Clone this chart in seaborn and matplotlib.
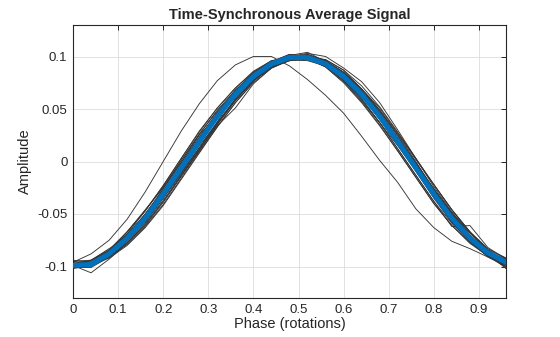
import matplotlib
matplotlib.use("Agg")
import matplotlib.pyplot as plt
import numpy as np
import pandas as pd
import seaborn as sns

# Phase grid of one shaft rotation (25 samples per rotation)
phase = [0.00, 0.04, 0.08, 0.12, 0.16, 0.20, 0.24, 0.28, 0.32, 0.36, 0.40, 0.44,
         0.48, 0.52, 0.56, 0.60, 0.64, 0.68, 0.72, 0.76, 0.80, 0.84, 0.88, 0.92, 0.96]

# Individual rotation segments, amplitude in units of 1e-3
rot01 = [-96, -95, -85, -67, -47, -24, 1, 26, 49, 68, 84, 95, 100, 101, 93, 79, 60, 37, 12, -13, -38, -59, -76, -88, -95]
rot02 = [-101, -100, -91, -78, -61, -39, -14, 11, 35, 58, 77, 91, 98, 100, 97, 87, 72, 52, 28, 3, -22, -46, -67, -84, -97]
rot03 = [-95, -99, -88, -71, -50, -28, -3, 22, 43, 62, 78, 91, 99, 98, 92, 81, 67, 48, 24, -1, -28, -51, -73, -86, -101]
rot04 = [-100, -94, -83, -73, -57, -35, -12, 13, 38, 64, 83, 94, 101, 104, 95, 78, 59, 37, 15, -9, -34, -58, -74, -90, -99]
rot05 = [-94, -96, -86, -67, -46, -25, -1, 25, 44, 67, 85, 96, 97, 96, 91, 79, 64, 45, 22, -3, -26, -49, -68, -84, -92]
rot06 = [-99, -106, -93, -78, -60, -38, -14, 10, 36, 59, 78, 90, 99, 102, 96, 85, 69, 49, 25, 0, -27, -51, -71, -88, -102]
rot07 = [-101, -97, -85, -70, -50, -26, -1, 23, 46, 66, 82, 94, 100, 98, 91, 77, 58, 37, 12, -13, -38, -62, -61, -82, -93]
rot08 = [-100, -99, -91, -77, -59, -37, -13, 11, 34, 51, 74, 89, 97, 100, 95, 83, 65, 44, 19, -6, -31, -54, -73, -88, -97]
rot09 = [-99, -98, -89, -74, -55, -32, -7, 18, 42, 63, 80, 93, 100, 103, 100, 89, 76, 56, 30, 3, -24, -48, -68, -85, -95]
rot10 = [-97, -96, -88, -75, -58, -35, -9, 15, 37, 59, 77, 89, 96, 97, 91, 79, 62, 43, 22, -1, -26, -49, -70, -86, -93]
rot11 = [-102, -99, -86, -69, -47, -23, 3, 29, 51, 70, 86, 96, 100, 98, 90, 75, 56, 34, 10, -15, -40, -61, -77, -90, -99]
rot12 = [-99, -98, -91, -79, -62, -41, -16, 9, 33, 56, 76, 91, 99, 101, 95, 84, 69, 51, 27, 3, -22, -46, -67, -83, -92]
rot13 = [-100, -96, -85, -69, -51, -30, -4, 22, 47, 68, 83, 93, 98, 99, 94, 83, 63, 40, 16, -7, -32, -57, -76, -91, -100]
rot14 = [-97, -98, -89, -73, -52, -28, -3, 21, 43, 62, 81, 95, 102, 100, 91, 77, 61, 43, 22, -3, -28, -51, -73, -88, -97]
rot15 = [-100, -97, -88, -75, -56, -31, -3, 23, 46, 64, 79, 90, 96, 99, 97, 87, 69, 47, 22, -5, -33, -57, -77, -89, -95]
rot16 = [-95, -94, -85, -71, -55, -34, -11, 12, 37, 60, 81, 95, 102, 100, 93, 80, 62, 40, 16, -8, -31, -53, -71, -85, -94]
rot17 = [-101, -101, -91, -76, -56, -30, -5, 20, 44, 66, 83, 93, 97, 97, 93, 83, 67, 46, 20, -9, -35, -58, -75, -88, -95]
rot18 = [-99, -96, -87, -73, -55, -33, -10, 13, 36, 58, 77, 92, 100, 102, 96, 83, 63, 41, 16, -9, -34, -57, -75, -90, -101]
rot19 = [-98, -97, -89, -75, -53, -26, 1, 26, 48, 66, 81, 92, 98, 99, 95, 85, 69, 49, 26, 2, -22, -46, -67, -85, -96]
rot20 = [-96, -88, -75, -55, -29, 0, 29, 55, 77, 92, 100, 100, 91, 78, 63, 46, 24, 1, -20, -45, -63, -76, -83, -91, -98]
rot21 = [-100, -99, -92, -80, -63, -42, -17, 8, 33, 56, 75, 89, 97, 100, 96, 85, 67, 46, 21, -4, -29, -52, -72, -87, -96]
rot22 = [-98, -94, -84, -67, -47, -23, 3, 28, 51, 70, 85, 95, 100, 98, 90, 76, 57, 35, 10, -15, -40, -61, -78, -90, -98]
rot23 = [-99, -97, -87, -72, -54, -32, -7, 19, 42, 62, 80, 93, 100, 101, 94, 82, 66, 46, 22, -2, -27, -50, -70, -86, -95]

# Time-synchronous average, amplitude in units of 1e-3
tsa_milli = [-99, -98, -88, -73, -54, -31, -6, 19, 43, 64, 81, 93, 99, 99, 93, 81, 64, 43, 19, -6, -31, -54, -73, -87, -96]

rotations = [rot01, rot02, rot03, rot04, rot05, rot06, rot07, rot08, rot09, rot10,
             rot11, rot12, rot13, rot14, rot15, rot16, rot17, rot18, rot19, rot20,
             rot21, rot22, rot23]

segments = pd.DataFrame({
    "phase": np.tile(phase, len(rotations)),
    "amplitude": np.concatenate(rotations) / 1000.0,
    "rotation": np.repeat(np.arange(1, len(rotations) + 1), len(phase)),
})
average = pd.DataFrame({"phase": phase, "amplitude": np.array(tsa_milli) / 1000.0})

sns.set_style("white")
plt.rcParams["font.family"] = ["Liberation Sans", "DejaVu Sans"]

fig = plt.figure(figsize=(5.6, 3.37), dpi=100)
ax = fig.add_axes([73 / 560, 39 / 337, 433 / 560, 273 / 337])

sns.lineplot(data=segments, x="phase", y="amplitude", units="rotation",
             estimator=None, color="#353535", linewidth=0.65, legend=False,
             ax=ax, zorder=2)
sns.lineplot(data=average, x="phase", y="amplitude", color="#0072BD",
             linewidth=3.6, legend=False, ax=ax, zorder=3,
             solid_joinstyle="round")

ax.set_xlim(0, 0.96)
ax.set_ylim(-0.13, 0.13)
xt = [0, 0.1, 0.2, 0.3, 0.4, 0.5, 0.6, 0.7, 0.8, 0.9]
xl = ["0", "0.1", "0.2", "0.3", "0.4", "0.5", "0.6", "0.7", "0.8", "0.9"]
yt = [-0.1, -0.05, 0, 0.05, 0.1]
yl = ["-0.1", "-0.05", "0", "0.05", "0.1"]
ax.set_xticks(xt)
ax.set_xticklabels(xl)
ax.set_yticks(yt)
ax.set_yticklabels(yl)

ax.grid(True, color="#dcdcdc", linewidth=0.6)
ax.set_axisbelow(True)
ax.tick_params(direction="in", length=3.5, width=0.7, colors="#262626",
               labelsize=9.5, top=True, right=True, pad=4)
for s in ax.spines.values():
    s.set_visible(True)
    s.set_color("#262626")
    s.set_linewidth(0.8)

ax.set_xlabel("Phase (rotations)", fontsize=10.5, color="#262626", labelpad=1)
ax.set_ylabel("Amplitude", fontsize=10.5, color="#262626", labelpad=4)
ax.set_title("Time-Synchronous Average Signal", fontsize=10.5,
             fontweight="bold", color="#262626", pad=4)

fig.savefig("out.png", dpi=100)
